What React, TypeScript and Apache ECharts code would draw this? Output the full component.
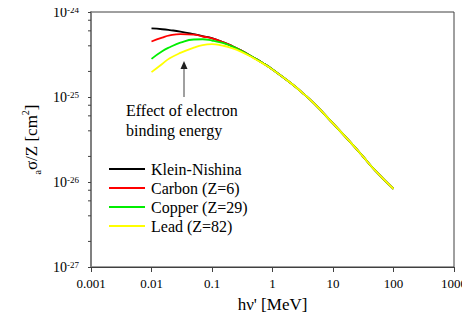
import React, { useEffect, useRef } from "react";
import * as echarts from "echarts";

const energies = [0.01, 0.015, 0.02, 0.03, 0.05, 0.07, 0.1, 0.15, 0.2, 0.3, 0.5, 0.7, 1, 2, 3, 5, 10, 20, 30, 50, 100];
const kleinNishina = [6.4e-25, 6.27e-25, 6.13e-25, 5.89e-25, 5.49e-25, 5.2e-25, 4.93e-25, 4.43e-25, 4.07e-25, 3.54e-25, 2.88e-25, 2.5e-25, 2.11e-25, 1.46e-25, 1.15e-25, 8.23e-26, 4.89e-26, 2.86e-26, 2.07e-26, 1.36e-26, 8.3e-27];
const carbon = [4.5e-25, 5.0e-25, 5.3e-25, 5.48e-25, 5.43e-25, 5.15e-25, 4.9e-25, 4.42e-25, 4.07e-25, 3.54e-25, 2.88e-25, 2.5e-25, 2.11e-25, 1.46e-25, 1.15e-25, 8.23e-26, 4.89e-26, 2.86e-26, 2.07e-26, 1.36e-26, 8.3e-27];
const copper = [2.81e-25, 3.45e-25, 3.85e-25, 4.35e-25, 4.75e-25, 4.78e-25, 4.62e-25, 4.33e-25, 4.02e-25, 3.52e-25, 2.88e-25, 2.5e-25, 2.11e-25, 1.46e-25, 1.15e-25, 8.23e-26, 4.89e-26, 2.86e-26, 2.07e-26, 1.36e-26, 8.3e-27];
const lead = [1.96e-25, 2.45e-25, 2.85e-25, 3.3e-25, 3.8e-25, 4.08e-25, 4.18e-25, 4.02e-25, 3.82e-25, 3.42e-25, 2.83e-25, 2.47e-25, 2.1e-25, 1.46e-25, 1.15e-25, 8.23e-26, 4.89e-26, 2.86e-26, 2.07e-26, 1.36e-26, 8.3e-27];

const seriesNames = ["Klein-Nishina", "Carbon (Z=6)", "Copper (Z=29)", "Lead (Z=82)"];
const seriesColors = ["#000000", "#ff0000", "#00ee00", "#ffff00"];
const xTickLabels = ["0.001", "0.01", "0.1", "1", "10", "100", "1000"];
const yMinorMantissas = [2, 4, 6, 8];
const yDecades = [-27, -26, -25];
const yMin = 1e-27;
const yMax = 1e-24;

// ECharts' log scale rounds tick values to 10 decimals, so the y values are
// plotted in units of 1e-24 cm² and the labels are shifted back.
const UNIT_EXP = 24;
const UNIT = Math.pow(10, UNIT_EXP);

const serif = "Liberation Serif";

export default function App() {
  const ref = useRef<HTMLDivElement>(null);
  useEffect(() => {
    if (!ref.current) return;
    const chart = echarts.init(ref.current, undefined, { renderer: "svg" });
    const allData = [kleinNishina, carbon, copper, lead];
    const minorData: number[][] = [];
    yDecades.forEach((d) => yMinorMantissas.forEach((m) => minorData.push([0.001, m * Math.pow(10, d) * UNIT])));

    chart.setOption({
      animation: false,
      backgroundColor: "#ffffff",
      textStyle: { fontFamily: serif },
      grid: { left: 91, right: 14, top: 12, bottom: 54, show: true, borderColor: "#404040", borderWidth: 1 },
      legend: {
        orient: "vertical",
        left: 104,
        top: 156,
        itemWidth: 36,
        itemHeight: 2,
        itemGap: 3,
        icon: "rect",
        data: seriesNames,
        textStyle: { fontFamily: serif, fontSize: 16, color: "#000", padding: [0, 0, 0, 1] },
      },
      xAxis: {
        type: "log",
        logBase: 10,
        min: 0.001,
        max: 1000,
        name: "hν' [MeV]",
        nameLocation: "middle",
        nameGap: 29,
        nameTextStyle: { fontFamily: serif, fontSize: 17, color: "#000" },
        axisLine: { lineStyle: { color: "#404040", width: 1 } },
        axisTick: { show: true, length: 5, inside: false, lineStyle: { color: "#404040" } },
        axisLabel: {
          fontFamily: serif,
          fontSize: 13,
          color: "#000",
          margin: 10,
          formatter: (v: number) => xTickLabels[Math.round(Math.log10(v)) + 3] ?? String(v),
        },
        splitLine: { show: false },
      },
      yAxis: {
        type: "log",
        logBase: 10,
        min: yMin * UNIT,
        max: yMax * UNIT,
        name: "{sub|a}{n|σ/Z [cm}{sup|2}{n|]}",
        nameLocation: "middle",
        nameRotate: 90,
        nameGap: 41,
        nameTextStyle: {
          fontFamily: serif,
          fontSize: 17,
          color: "#000",
          rich: {
            n: { fontFamily: serif, fontSize: 17, color: "#000", lineHeight: 22, verticalAlign: "middle" },
            sub: { fontFamily: serif, fontSize: 10, color: "#000", lineHeight: 22, verticalAlign: "bottom" },
            sup: { fontFamily: serif, fontSize: 10, color: "#000", lineHeight: 22, verticalAlign: "top" },
          },
        },
        axisLine: { show: true, lineStyle: { color: "#808080", width: 2 } },
        axisTick: { show: true, length: 3, inside: false, lineStyle: { color: "#404040" } },
        axisLabel: {
          fontFamily: serif,
          fontSize: 14,
          color: "#000",
          margin: 12,
          formatter: (v: number) => `{b|10}{s|${Math.round(Math.log10(v)) - UNIT_EXP}}`,
          rich: {
            b: { fontFamily: serif, fontSize: 14, color: "#000", lineHeight: 14, verticalAlign: "bottom" },
            s: { fontFamily: serif, fontSize: 9, color: "#000", lineHeight: 14, verticalAlign: "top", padding: [0, 0, 4, 0] },
          },
        },
        splitLine: { show: false },
      },
      graphic: [
        {
          type: "line",
          shape: { x1: 184, y1: 68, x2: 184, y2: 97 },
          style: { stroke: "#808080", lineWidth: 1.5 },
        },
        {
          type: "polygon",
          shape: { points: [[184, 61], [180.5, 69], [187.5, 69]] },
          style: { fill: "#202020" },
        },
        {
          type: "text",
          left: 126,
          top: 100,
          style: { text: "Effect of electron\nbinding energy", fontFamily: serif, fontSize: 16, lineHeight: 20, fill: "#000" },
        },
      ],
      series: [
        ...allData.map((arr, i) => ({
          type: "line",
          name: seriesNames[i],
          data: energies.map((e, j) => [e, arr[j] * UNIT]),
          showSymbol: false,
          symbol: "none",
          smooth: true,
          lineStyle: { color: seriesColors[i], width: 1.8 },
          itemStyle: { color: seriesColors[i] },
          z: 2 + i,
        })),
        {
          type: "custom",
          name: "minorTicks",
          data: minorData,
          silent: true,
          clip: false,
          renderItem: (_params: any, api: any) => {
            const p = api.coord([api.value(0), api.value(1)]);
            return {
              type: "line",
              shape: { x1: p[0] - 3, y1: p[1], x2: p[0], y2: p[1] },
              style: { stroke: "#404040", lineWidth: 1 },
            };
          },
          z: 10,
        },
      ],
    });
    return () => chart.dispose();
  }, []);
  return <div ref={ref} style={{ width: 470, height: 321, margin: -8 }} />;
}
